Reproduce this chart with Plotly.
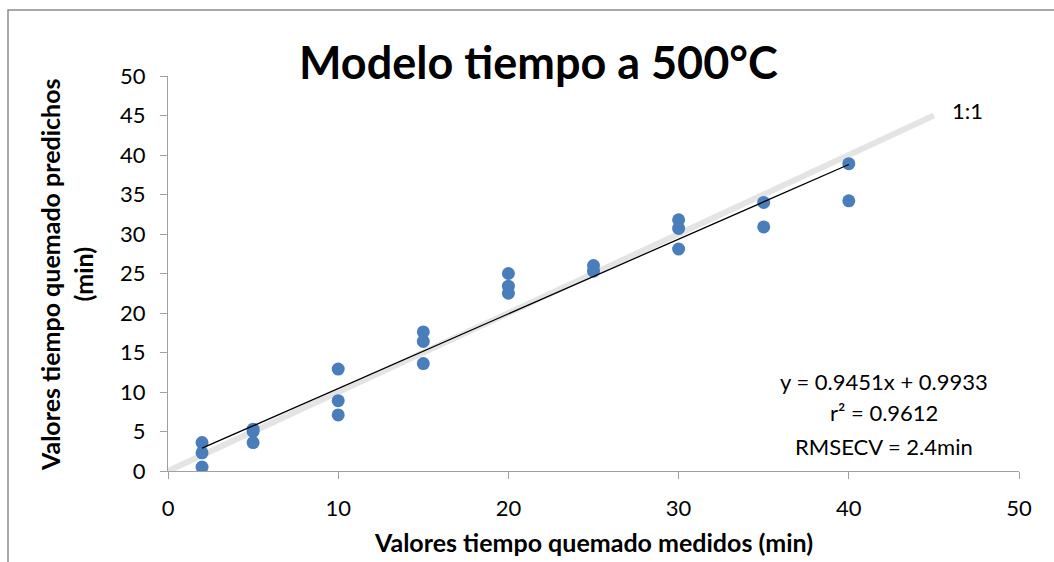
import plotly.graph_objects as go

# Measured vs. predicted burn time (min)
medidos = [2, 2, 2, 5, 5, 5, 10, 10, 10, 15, 15, 15, 20, 20, 20, 25, 25, 30, 30, 30, 35, 35, 40, 40]
predichos = [3.6, 2.3, 0.5, 5.3, 5.0, 3.6, 12.9, 8.9, 7.1, 17.6, 16.4, 13.6,
             25.0, 23.4, 22.5, 26.0, 25.3, 31.8, 30.7, 28.1, 34.0, 30.9, 38.9, 34.2]

# Linear fit reported on the chart
pendiente = 0.9451
intercepto = 0.9933
r2 = 0.9612
rmsecv = 2.4
ajuste_x = [2, 40]
ajuste_y = [pendiente * v + intercepto for v in ajuste_x]

# 1:1 reference line
ref_x = [0, 45]
ref_y = [0, 45]

tick_vals_x = [0, 10, 20, 30, 40, 50]
tick_vals_y = [0, 5, 10, 15, 20, 25, 30, 35, 40, 45, 50]

FONT = "Lato, 'Open Sans', sans-serif"

fig = go.Figure()
fig.add_trace(go.Scatter(x=ref_x, y=ref_y, mode="lines",
                         line=dict(color="#E4E4E4", width=6), hoverinfo="skip"))
fig.add_trace(go.Scatter(x=medidos, y=predichos, mode="markers",
                         marker=dict(color="#4A7EBB", size=13, line=dict(width=0))))
fig.add_trace(go.Scatter(x=ajuste_x, y=ajuste_y, mode="lines",
                         line=dict(color="black", width=1.3)))

axis_common = dict(showgrid=False, zeroline=False, showline=True, linecolor="#A0A0A0",
                   linewidth=1.3, ticks="outside", ticklen=7, tickcolor="#A0A0A0",
                   tickwidth=1.3, tickfont=dict(family=FONT, size=22, color="black"))

fig.update_xaxes(range=[0, 50], tickvals=tick_vals_x, ticklabelstandoff=10, **axis_common)
fig.update_yaxes(range=[0, 50], tickvals=tick_vals_y, ticklabelstandoff=10, **axis_common)

annotations = [
    dict(text="<b>Modelo tiempo a 500°C</b>", x=538, y=62, font=dict(size=45)),
    dict(text="<b>Valores tiempo quemado medidos (min)</b>", x=593, y=542, font=dict(size=25)),
    dict(text="<b>Valores tiempo quemado predichos<br>(min)</b>", x=66, y=275,
         font=dict(size=25), textangle=-90),
    dict(text=f"y = {pendiente}x + {intercepto}", x=884, y=381, font=dict(size=22)),
    dict(text=f"r² = {r2}", x=884, y=412, font=dict(size=22)),
    dict(text=f"RMSECV = {rmsecv}min", x=884, y=446, font=dict(size=22)),
    dict(text="1:1", x=967, y=110, font=dict(size=22)),
]

# convert pixel positions to paper coordinates
L, R, T, B = 168, 1019, 76, 471
W, H = R - L, B - T
ann_objs = []
for a in annotations:
    a = dict(a)
    px, py = a.pop("x"), a.pop("y")
    a["font"] = dict(family=FONT, color="black", **a["font"])
    ann_objs.append(dict(x=(px - L) / W, y=(B - py) / H, xref="paper", yref="paper",
                         showarrow=False, xanchor="center", yanchor="middle", **a))

fig.update_layout(
    width=1054, height=562,
    margin=dict(l=L, r=1054 - R, t=T, b=562 - B),
    paper_bgcolor="white", plot_bgcolor="white",
    showlegend=False,
    annotations=ann_objs,
    shapes=[dict(type="rect", xref="paper", yref="paper",
                 x0=(8 - L) / W, y0=-1, x1=2, y1=(B - 10) / H,
                 line=dict(color="#8C8C8C", width=1.5), layer="below")],
)

fig.write_html("out.html")
